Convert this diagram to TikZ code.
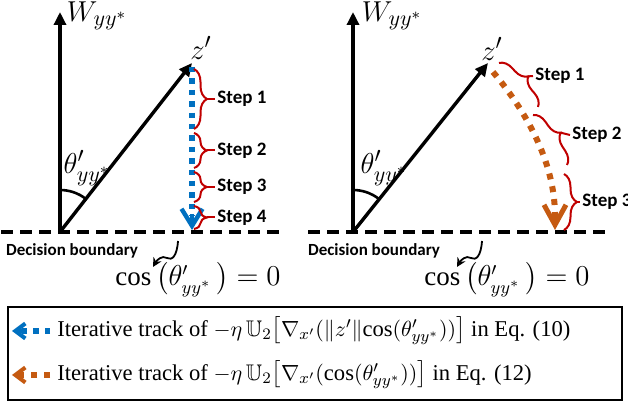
\documentclass[tikz,border=0pt]{standalone}
\usepackage{amsmath,amssymb}
\usepackage{fontspec}
\setmainfont{Liberation Serif}
\newfontfamily\calib{Carlito}
\usetikzlibrary{arrows.meta,positioning,decorations.pathreplacing,calc}
\definecolor{trackblue}{RGB}{0,112,192}
\definecolor{trackorange}{RGB}{197,90,17}
\definecolor{bracered}{RGB}{192,0,0}
\tikzset{
  vec/.style={line width=1.7pt, -{Triangle[length=6.5pt,width=6pt]}},
  boundary/.style={line width=1.6pt, dash pattern=on 6pt off 3.5pt},
  stepbrace/.style={bracered, line width=1pt, decorate, decoration={brace, amplitude=6.5pt}},
  steptick/.style={bracered, line width=1pt},
  steplabel/.style={font=\calib\bfseries\fontsize{9.5}{10}\selectfont, anchor=west, inner sep=1pt},
  boundlabel/.style={font=\calib\bfseries\fontsize{8.5}{10}\selectfont, inner sep=0pt},
  mathlabel/.style={font=\fontsize{15.5}{17}\selectfont, inner sep=0pt},
  coslabel/.style={font=\fontsize{13.5}{15}\selectfont, inner sep=0pt},
  bluetrack/.style={trackblue, line width=2.7pt, dash pattern=on 2.7pt off 3pt},
  orangetrack/.style={trackorange, line width=3pt, dash pattern=on 3pt off 3.5pt},
  legtext/.style={font=\fontsize{11.3}{13}\selectfont, anchor=west, inner sep=0pt}
}

\begin{document}
\begin{tikzpicture}[x=0.5pt,y=0.5pt]
  \useasboundingbox (0,0) rectangle (628,406);
  % Left panel: axes and z'
  \coordinate (oA) at (60,174);
  \coordinate (wA) at (60,394);
  \coordinate (zA) at (192,343);
  \draw[boundary] (1,174) -- (282,174);
  \draw[vec] (oA) -- (wA);
  \draw[vec] (oA) -- (zA);
  \draw[line width=1.3pt] ($(oA)+(90:42)$) arc[start angle=90, end angle=52, radius=42];
  \node[mathlabel] (wlabA) at (97,390) {$W_{yy^*}$};
  \node[mathlabel] (zlabA) at (201,358) {$z'$};
  \node[mathlabel] (thA) at (87,238) {$\theta'_{yy^*}$};
  \node[boundlabel] (dbA) at (72,155) {Decision boundary};
  \node[coslabel] (cosA) at (198,127) {$\cos\big(\theta'_{yy^*}\,\big)=0$};
  % The squiggle to cos = 0
  \draw[line width=0.9pt, -{Stealth[length=4.5pt,width=4.5pt]}] (178,165) .. controls (177,150) and (172,145) .. (167,148) .. controls (162,151) and (157,146) .. (153,139);
  % Blue track, straight down
  \coordinate (tA0) at (192,339);
  \coordinate (tA1) at (192,176);
  \draw[bluetrack] (tA0) -- ($(tA1)+(0,14)$);
  \draw[trackblue, line width=2.2pt, -{Straight Barb[length=8.5pt,width=10.5pt,line width=2.2pt]}] ($(tA1)+(0,16)$) -- (tA1);
  % Steps of the blue track
  \foreach \top/\bot/\lab in {337/277/1, 273/238/2, 234/204/3, 200/177/4}{
    \draw[stepbrace] (194,\top) -- (194,\bot);
    \coordinate (tipA\lab) at ($(194,\top)!0.5!(194,\bot)+(13,0)$);
    \node[steplabel] (stA\lab) at ($(tipA\lab)+(8,0)$) {Step \lab};
    \draw[steptick] (tipA\lab) -- (stA\lab.west);
  }

  % Right panel: axes and z'
  \coordinate (oB) at (353,174);
  \coordinate (wB) at (353,394);
  \coordinate (zB) at (488,343);
  \draw[boundary] (308,174) -- (612,174);
  \draw[vec] (oB) -- (wB);
  \draw[vec] (oB) -- (zB);
  \draw[line width=1.3pt] ($(oB)+(90:42)$) arc[start angle=90, end angle=51.4, radius=42];
  \node[mathlabel] (wlabB) at (392,390) {$W_{yy^*}$};
  \node[mathlabel] (zlabB) at (492,357) {$z'$};
  \node[mathlabel] (thB) at (384,238) {$\theta'_{yy^*}$};
  \node[boundlabel] (dbB) at (374,155) {Decision boundary};
  \node[coslabel] (cosB) at (507,127) {$\cos\big(\theta'_{yy^*}\,\big)=0$};
  \draw[line width=0.9pt, -{Stealth[length=4.5pt,width=4.5pt]}] (482,165) .. controls (481,150) and (476,145) .. (471,148) .. controls (466,151) and (461,146) .. (457,139);
  % Orange track, bending down
  \coordinate (tB0) at (493,334);
  \coordinate (tB1) at (555,176);
  \draw[orangetrack] (tB0) .. controls (530,290) and (555,240) .. ($(tB1)+(0,14)$);
  \draw[trackorange, line width=2.5pt, -{Straight Barb[length=10pt,width=11pt,line width=2.5pt]}] ($(tB1)+(0,16)$) -- (tB1);
  % Steps of the orange track
  \foreach \ax/\ay/\bx/\by/\lab/\lx/\ly in {499/343/538/299/1/533/330, 533/291/567/241/2/570/271, 564/232/564/176/3/580/204}{
    \coordinate (bra) at (\ax,\ay);
    \coordinate (brb) at (\bx,\by);
    \draw[stepbrace] (bra) -- (brb);
    \coordinate (brm) at ($(bra)!0.5!(brb)$);
    \coordinate (tipB\lab) at ($(brm)!6.5pt!90:(brb)$);
    \node[steplabel] (stB\lab) at (\lx,\ly) {Step \lab};
    \draw[steptick] (tipB\lab) -- (stB\lab.west);
  }

  % Legend
  \node[draw, line width=1.1pt, minimum width=307pt, minimum height=46.5pt, inner sep=0pt] (legend) at (315,52.5) {};
  \node[legtext] (legA) at (57,75) {Iterative track of $-\eta\,\mathbb{U}_2\big[\nabla_{x'}(\|z'\|\mathord{\cos}(\theta'_{yy^*}))\big]$ in Eq. (10)};
  \node[legtext] (legB) at (57,31) {Iterative track of $-\eta\,\mathbb{U}_2\big[\nabla_{x'}(\cos(\theta'_{yy^*}))\big]$ in Eq. (12)};
  \coordinate (sA0) at (50,75);
  \coordinate (sA1) at (12,75);
  \coordinate (sB0) at (50,31);
  \coordinate (sB1) at (12,31);
  \draw[bluetrack] (sA0) -- ($(sA1)+(8,0)$);
  \draw[trackblue, line width=2pt, -{Straight Barb[length=5pt,width=7.5pt,line width=2pt]}] ($(sA1)+(10,0)$) -- (sA1);
  \draw[orangetrack] (sB0) -- ($(sB1)+(8,0)$);
  \draw[trackorange, line width=2pt, -{Straight Barb[length=5pt,width=7.5pt,line width=2pt]}] ($(sB1)+(10,0)$) -- (sB1);
\end{tikzpicture}
\end{document}
